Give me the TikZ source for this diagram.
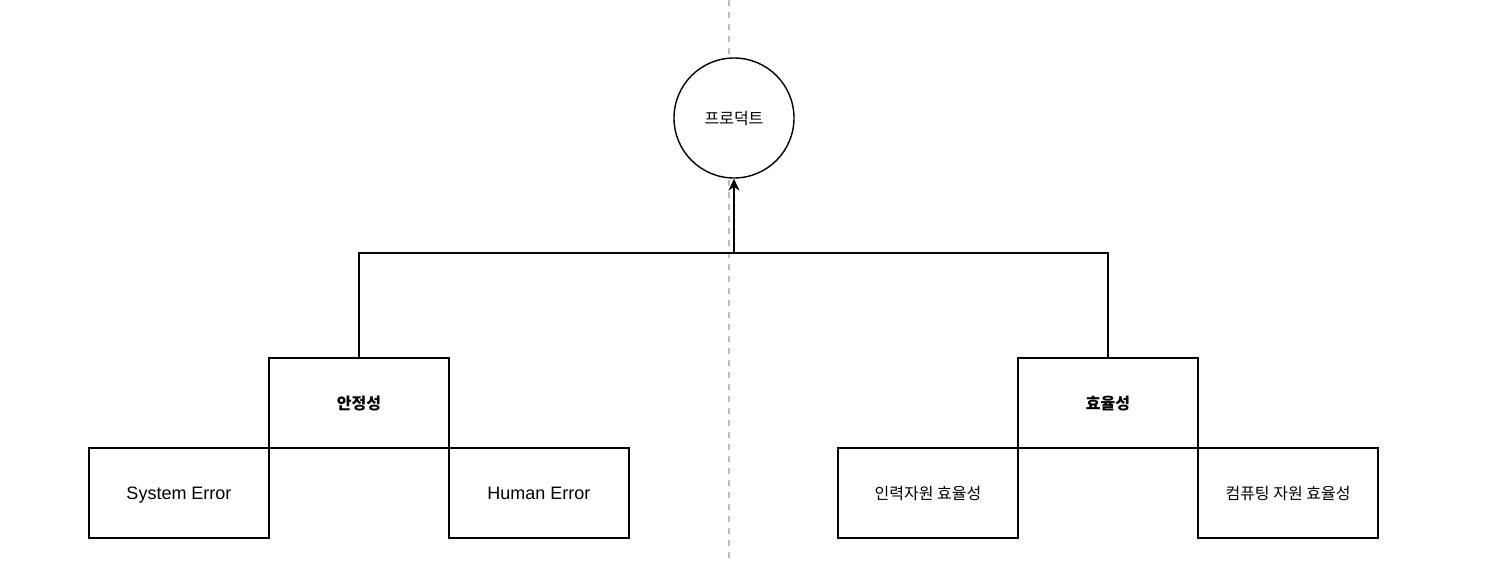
\documentclass[tikz,border=0pt]{standalone}
\usepackage{fontspec}
\setmainfont{Liberation Sans}
\newfontfamily\kr{Noto Sans CJK KR}
\usetikzlibrary{arrows.meta}
\definecolor{guide}{HTML}{BBBBBB}

\begin{document}
\begin{tikzpicture}[x=1pt, y=-1pt, line width=1.4pt,
  box/.style={draw, fill=white, minimum width=180pt, minimum height=90pt, inner sep=0pt,
    text height=15pt, text depth=2pt, font=\fontsize{18}{22}\selectfont},
  kbox/.style={box, font=\kr\fontsize{16}{20}\selectfont}]
\useasboundingbox (0,0) rectangle (1500,566);
\draw[guide, dash pattern=on 6pt off 6pt] (729,0) -- (729,560);
\node[draw, fill=white, circle, minimum size=120pt, inner sep=0pt, text height=15pt, text depth=2pt,
  font=\kr\fontsize{16}{20}\selectfont] (node_prod) at (734,118) {프로덕트};
\node[kbox, font=\kr\bfseries\fontsize{16}{20}\selectfont] (node_stab) at (359,403) {안정성};
\node[box] (node_sys) at (179,493) {System Error};
\node[box] (node_hum) at (539,493) {Human Error};
\node[kbox, font=\kr\bfseries\fontsize{16}{20}\selectfont] (node_eff) at (1108,403) {효율성};
\node[kbox] (node_man) at (928,493) {인력자원 효율성};
\node[kbox] (node_comp) at (1288,493) {컴퓨팅 자원 효율성};
\coordinate (join) at (734,253);
\draw (node_stab.north) |- (join) -| (node_eff.north);
\draw[-{Stealth[length=12pt, width=11pt, inset=4pt]}] (join) -- (node_prod.south);
\end{tikzpicture}
\end{document}
